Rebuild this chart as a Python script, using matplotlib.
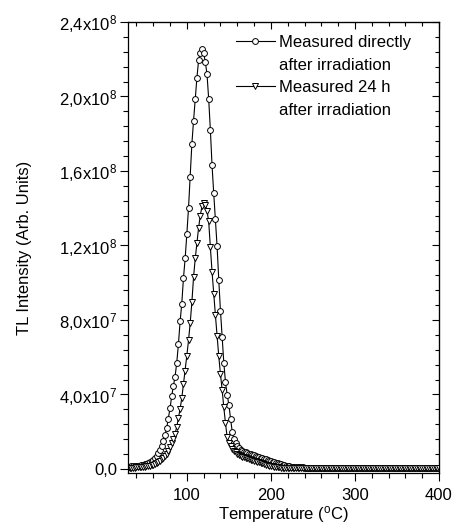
import matplotlib
matplotlib.use("Agg")
import matplotlib.pyplot as plt
from matplotlib.lines import Line2D
from matplotlib.ticker import MultipleLocator

plt.rcParams['font.family'] = ['Liberation Sans', 'DejaVu Sans']
plt.rcParams['mathtext.fontset'] = 'custom'
plt.rcParams['mathtext.rm'] = 'Liberation Sans'
plt.rcParams['mathtext.it'] = 'Liberation Sans:italic'
plt.rcParams['font.size'] = 12

# temperature grid (deg C), one reading every 2 degrees
temperature = list(range(30, 402, 2))

# TL intensity in units of 1e7
direct = [
    0.12, 0.12, 0.13, 0.13, 0.14, 0.15, 0.16, 0.18, 0.20, 0.22, 0.25, 0.28, 0.32, 0.37, 0.43,
    0.50, 0.57, 0.68, 0.85, 1.03, 1.25, 1.52, 1.82, 2.18, 2.70, 3.25, 3.90, 4.45, 4.95, 5.70,
    6.70, 7.92, 8.88, 10.25, 11.30, 12.60, 14.00, 15.70, 17.45, 18.70, 19.85, 21.00, 21.95, 22.35, 22.55,
    22.33, 21.85, 21.20, 19.87, 18.20, 16.30, 14.80, 13.40, 11.95, 10.15, 8.50, 7.10, 5.70, 4.65, 3.98,
    3.45, 2.70, 2.00, 1.62, 1.40, 1.25, 1.12, 1.04, 0.98, 0.93, 0.88, 0.84, 0.81, 0.78, 0.75,
    0.72, 0.69, 0.66, 0.63, 0.60, 0.57, 0.54, 0.51, 0.48, 0.45, 0.42, 0.39, 0.36, 0.33, 0.30,
    0.27, 0.24, 0.21, 0.19, 0.17, 0.15, 0.13, 0.12, 0.11, 0.10, 0.09, 0.09, 0.08, 0.08, 0.08,
    0.07, 0.07, 0.07, 0.07, 0.07, 0.07, 0.07, 0.07, 0.07, 0.07, 0.07, 0.07, 0.07, 0.07, 0.07,
    0.07, 0.07, 0.07, 0.07, 0.07, 0.07, 0.07, 0.07, 0.07, 0.07, 0.06, 0.06, 0.06, 0.06, 0.06,
    0.06, 0.06, 0.06, 0.06, 0.06, 0.06, 0.06, 0.06, 0.06, 0.06, 0.06, 0.06, 0.06, 0.06, 0.06,
    0.06, 0.06, 0.06, 0.06, 0.06, 0.06, 0.06, 0.06, 0.06, 0.06, 0.06, 0.06, 0.06, 0.06, 0.06,
    0.06, 0.06, 0.06, 0.06, 0.06, 0.06, 0.06, 0.06, 0.06, 0.06, 0.06, 0.06, 0.06, 0.06, 0.06,
    0.06, 0.06, 0.06, 0.06, 0.06, 0.06,
]
after_24h = [
    0.06, 0.06, 0.07, 0.07, 0.07, 0.08, 0.08, 0.09, 0.10, 0.11, 0.12, 0.13, 0.15, 0.17, 0.20,
    0.23, 0.27, 0.31, 0.36, 0.43, 0.52, 0.60, 0.70, 0.82, 0.98, 1.18, 1.40, 1.62, 1.90, 2.25,
    2.72, 3.22, 3.80, 4.55, 5.28, 6.08, 6.90, 7.83, 8.95, 10.30, 11.30, 12.15, 12.95, 13.60, 14.10,
    14.30, 14.15, 13.85, 13.30, 11.90, 10.60, 9.40, 8.25, 7.15, 6.05, 5.10, 4.25, 3.30, 2.45, 1.70,
    1.40, 1.22, 1.08, 0.97, 0.88, 0.81, 0.75, 0.70, 0.66, 0.62, 0.59, 0.56, 0.53, 0.50, 0.47,
    0.44, 0.41, 0.38, 0.35, 0.32, 0.29, 0.26, 0.23, 0.20, 0.18, 0.16, 0.14, 0.12, 0.10, 0.09,
    0.08, 0.07, 0.07, 0.06, 0.06, 0.06, 0.05, 0.05, 0.05, 0.05, 0.05, 0.05, 0.05, 0.05, 0.05,
    0.04, 0.04, 0.04, 0.04, 0.04, 0.04, 0.04, 0.04, 0.04, 0.04, 0.04, 0.04, 0.04, 0.04, 0.04,
    0.04, 0.04, 0.04, 0.04, 0.04, 0.04, 0.04, 0.04, 0.04, 0.04, 0.04, 0.04, 0.04, 0.04, 0.04,
    0.04, 0.04, 0.04, 0.04, 0.04, 0.04, 0.04, 0.04, 0.04, 0.04, 0.04, 0.04, 0.04, 0.04, 0.04,
    0.04, 0.04, 0.04, 0.04, 0.04, 0.04, 0.04, 0.04, 0.04, 0.04, 0.04, 0.04, 0.04, 0.04, 0.04,
    0.04, 0.04, 0.04, 0.04, 0.04, 0.04, 0.04, 0.04, 0.04, 0.04, 0.04, 0.04, 0.04, 0.04, 0.04,
    0.04, 0.04, 0.04, 0.04, 0.04, 0.04,
]
scale = 1e7

xticks = [100, 200, 300, 400]
yticks = [0, 4e7, 8e7, 1.2e8, 1.6e8, 2.0e8, 2.4e8]
ytick_labels = ['0,0', '4,0x10$^7$', '8,0x10$^7$', '1,2x10$^8$',
                '1,6x10$^8$', '2,0x10$^8$', '2,4x10$^8$']
labels = ['Measured directly', 'after irradiation', 'Measured 24 h', 'after irradiation']

fig = plt.figure(figsize=(4.55, 5.26), dpi=100)
ax = fig.add_axes([0.2813, 0.1008, 0.6835, 0.8574])

y1 = [v * scale for v in direct]
y2 = [v * scale for v in after_24h]
style = dict(color='black', lw=0.8, ms=4.2, mfc='white', mec='black', mew=0.7)
l1, = ax.plot(temperature, y1, '-o', **style)
l2, = ax.plot(temperature, y2, '-v', **style)

ax.set_xlim(30, 400)
ax.set_ylim(-2.2e6, 2.4e8)
ax.set_xticks(xticks)
ax.xaxis.set_minor_locator(MultipleLocator(20))
ax.set_yticks(yticks, ytick_labels)
ax.yaxis.set_minor_locator(MultipleLocator(8e6))
ax.tick_params(which='both', direction='out', width=0.8, top=False, right=False)
ax.tick_params(axis='x', which='major', length=6, pad=5)
ax.tick_params(axis='y', which='major', length=6, pad=2)
ax.tick_params(which='minor', length=3.5)
for s in ax.spines.values():
    s.set_linewidth(0.9)

secx = ax.secondary_xaxis('top')
secx.set_xticks(xticks)
secx.xaxis.set_minor_locator(MultipleLocator(20))
secx.tick_params(which='both', direction='in', labeltop=False, width=0.8)
secx.tick_params(which='major', length=5)
secx.tick_params(which='minor', length=3)
secy = ax.secondary_yaxis('right')
secy.set_yticks(yticks)
secy.yaxis.set_minor_locator(MultipleLocator(8e6))
secy.tick_params(which='both', direction='in', labelright=False, width=0.8)
secy.tick_params(which='major', length=5)
secy.tick_params(which='minor', length=3)

ax.set_xlabel('Temperature ($^{\\mathrm{o}}$C)')
ax.set_ylabel('TL Intensity (Arb. Units)')
ax.xaxis.set_label_coords(0.5, -0.068)
ax.yaxis.set_label_coords(-0.31, 0.5)

blank = Line2D([], [], linestyle='none')
ax.legend([l1, blank, l2, blank], labels, loc='upper left',
          bbox_to_anchor=(0.348, 0.971), frameon=False, borderpad=0,
          borderaxespad=0, handlelength=2.3, handletextpad=0.25,
          labelspacing=0.45, fontsize=12)

fig.savefig('out.png', dpi=100)
